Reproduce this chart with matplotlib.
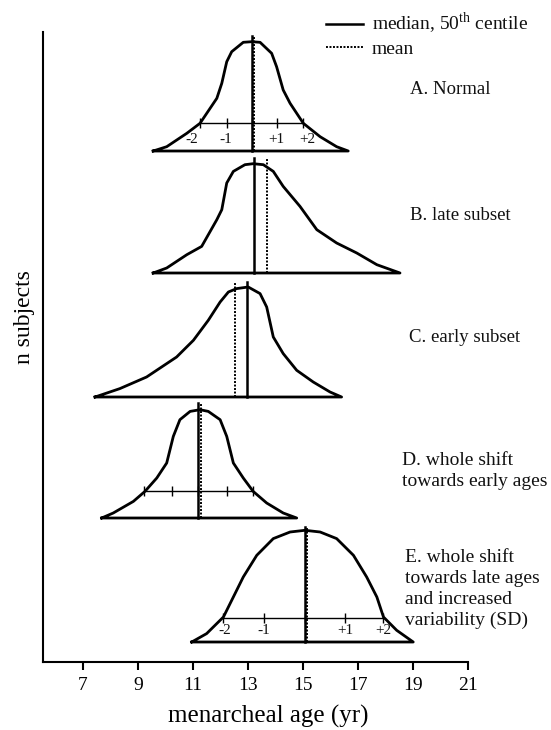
import numpy as np
import matplotlib
matplotlib.use('Agg')
import matplotlib.pyplot as plt

plt.rcParams['font.family'] = ['Liberation Serif', 'DejaVu Serif']
plt.rcParams['mathtext.fontset'] = 'custom'
plt.rcParams['mathtext.rm'] = 'Liberation Serif'
plt.rcParams['text.color'] = '#111111'

# curve outlines: age (yr) and height above each panel's baseline
a_age = [9.56, 10.05, 10.78, 11.26, 11.87, 12.05, 12.23, 12.41, 12.83, 13.14, 13.44, 13.86, 14.04, 14.28, 14.53, 15.01, 15.62, 16.22, 16.64]
a_n = [0, 4.3, 17.7, 27.7, 52.7, 67.7, 89.3, 99.3, 108.7, 109.3, 108.7, 97.7, 84.3, 61, 47.7, 27.7, 14.3, 4.3, 0]

b_age = [9.56, 10.05, 10.78, 11.32, 11.87, 12.05, 12.23, 12.47, 12.89, 13.19, 13.56, 13.92, 14.28, 14.89, 15.50, 16.22, 16.95, 17.68, 18.52]
b_n = [0, 5, 18.3, 26.6, 53.3, 63.3, 90, 101.6, 108.3, 109.3, 108.3, 101.6, 86.6, 66.6, 43.3, 30, 20, 8.3, 0]

c_age = [7.45, 8.35, 9.32, 10.41, 11.02, 11.56, 11.99, 12.29, 12.59, 13.01, 13.44, 13.68, 13.92, 14.28, 14.77, 15.37, 15.98, 16.40]
c_n = [0, 8.4, 20, 40, 56.7, 76.7, 95, 105, 108.4, 110, 103.4, 90, 60, 43.4, 26.7, 15, 5, 0]

d_age = [7.69, 8.11, 8.84, 9.26, 9.69, 10.05, 10.29, 10.53, 10.90, 11.26, 11.56, 11.99, 12.23, 12.47, 12.83, 13.19, 13.68, 14.28, 14.77]
d_n = [0, 5, 16.6, 26.6, 40, 55, 81.6, 98.3, 106.6, 108.3, 106.6, 98.3, 81.6, 55, 40, 26.6, 15, 5, 0]

e_age = [10.96, 11.50, 12.11, 12.47, 12.83, 13.32, 13.92, 14.53, 15.07, 15.62, 16.22, 16.83, 17.31, 17.68, 17.92, 18.40, 19.00]
e_n = [0, 8.4, 25, 45, 65, 86.7, 103.4, 110, 111.7, 110, 103.4, 86.7, 65, 45, 25, 11.7, 0]

medians = [13.14, 13.22, 12.98, 11.20, 15.07]
means = [13.21, 13.68, 12.53, 11.29, 15.13]

# SD bars (-2, -1, 0, +1, +2) for panels A, D, E
sd_a = [11.25, 12.25, 13.14, 14.04, 15.01]
sd_d = [9.24, 10.25, 11.20, 12.23, 13.19]
sd_e = [12.11, 13.58, 15.07, 16.52, 17.92]
sd_labels = ['-2', '-1', '', '+1', '+2']

panel_labels = ['A. Normal', 'B. late subset', 'C. early subset',
                'D. whole shift\ntowards early ages',
                'E. whole shift\ntowards late ages\nand increased\nvariability (SD)']
xticks = [7, 9, 11, 13, 15, 17, 19, 21]

# layout
base = [511, 389, 265, 144, 20]
label_x = [18.88, 18.88, 18.86, 18.58, 18.70]
label_dy = [61, 57, 60, 47, 53]
label_fs = [13.5, 13.5, 13.5, 14, 14]
top = 115

fig = plt.figure(figsize=(5.51, 7.30), dpi=100)
ax = fig.add_axes([43.3 / 551, 68 / 730, 425 / 551, 630 / 730])
ax.set_xlim(5.57, 21)
ax.set_ylim(0, 630)

curves = [(a_age, a_n), (b_age, b_n), (c_age, c_n), (d_age, d_n), (e_age, e_n)]
for i, (xs, ns) in enumerate(curves):
    xs = np.append(xs, xs[0])
    ys = np.append(ns, 0) + base[i]
    ax.plot(xs, ys, color='black', lw=2.0, solid_joinstyle='round')
    l1, = ax.plot([medians[i]] * 2, [base[i], base[i] + top], color='black', lw=1.8)
    l2, = ax.plot([means[i]] * 2, [base[i], base[i] + top], color='black', lw=1.4,
                  linestyle=(0, (1, 0.8)))
    if i == 0:
        h_med, h_mean = l1, l2
    ax.text(label_x[i], base[i] + label_dy[i], panel_labels[i], fontsize=label_fs[i],
            ha='left', va='center', linespacing=1.3)

sd_sets = [(0, sd_a, 27.7, 16, [-0.3, -0.05, 0, 0, 0.15]),
           (3, sd_d, 26.6, 0, None),
           (4, sd_e, 24, 12, [0.05, 0, 0, 0, 0])]
for i, ticks, h, dl, offs in sd_sets:
    ax.plot(ticks, [base[i] + h] * len(ticks), color='black', lw=1.0,
            marker='|', markersize=7, markeredgewidth=1.0)
    if offs is not None:
        for t, lab, o in zip(ticks, sd_labels, offs):
            if lab:
                ax.text(t + o, base[i] + h - dl, lab, fontsize=11, ha='center', va='center')

ax.spines['top'].set_visible(False)
ax.spines['right'].set_visible(False)
ax.spines['left'].set_linewidth(1.5)
ax.spines['bottom'].set_linewidth(1.5)
ax.set_yticks([])
ax.set_xticks(xticks)
ax.set_xticklabels([str(t) for t in xticks], fontsize=14)
ax.tick_params(axis='x', direction='out', length=5.5, width=1.5, pad=5)
ax.set_xlabel('menarcheal age (yr)', fontsize=18)
ax.xaxis.set_label_coords(0.53, -0.068)
ax.set_ylabel('n subjects', fontsize=17)
ax.yaxis.set_label_coords(-0.02, 0.548)

ax.legend([h_med, h_mean], [r'median, 50$^{\mathrm{th}}$ centile', 'mean'],
          loc='upper left', bbox_to_anchor=(326 / 551, 1 - 11 / 730),
          bbox_transform=fig.transFigure, frameon=False, fontsize=14,
          borderpad=0, borderaxespad=0, handlelength=1.9, handletextpad=0.45,
          labelspacing=0.2)

plt.savefig('out.png', dpi=100)
